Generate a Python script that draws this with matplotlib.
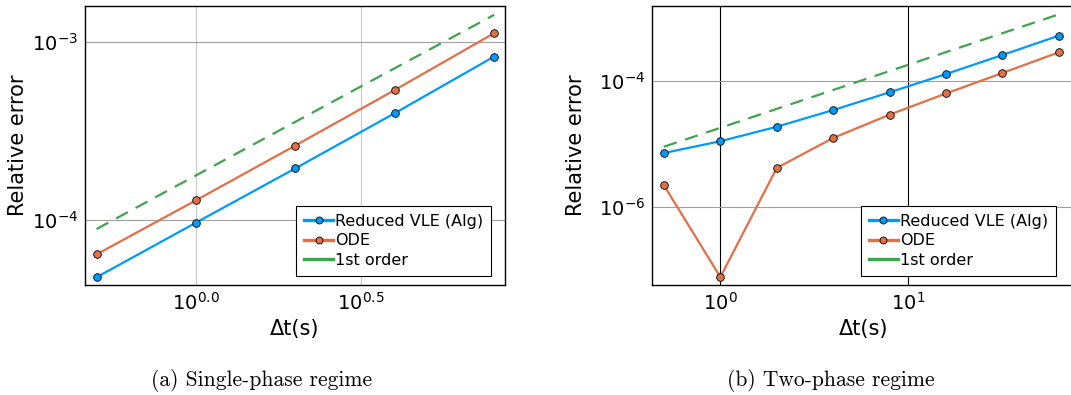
import numpy as np
import matplotlib
matplotlib.use("Agg")
import matplotlib.pyplot as plt
from matplotlib.lines import Line2D

# data
dt_single = [0.5, 1, 2, 4, 8]
vle_single = [4.77e-5, 9.66e-5, 1.95e-4, 3.98e-4, 8.28e-4]
ode_single = [6.41e-5, 1.29e-4, 2.62e-4, 5.37e-4, 1.12e-3]
ref_single = [8.9e-5, 1.78e-4, 3.56e-4, 7.12e-4, 1.42e-3]

dt_two = [0.5, 1, 2, 4, 8, 16, 32, 64]
vle_two = [7.14e-6, 1.10e-5, 1.87e-5, 3.45e-5, 6.6e-5, 1.29e-4, 2.59e-4, 5.26e-4]
ode_two = [2.18e-6, 7.57e-8, 4.13e-6, 1.24e-5, 2.91e-5, 6.33e-5, 1.34e-4, 2.86e-4]
ref_two = [9.0e-6, 1.8e-5, 3.6e-5, 7.2e-5, 1.44e-4, 2.88e-4, 5.76e-4, 1.15e-3]

labels = ["Reduced VLE (Alg)", "ODE", "1st order"]
blue = "#009AFA"
orange = "#E36F47"
green = "#3EA44E"

W, H = 1071, 395
fig = plt.figure(figsize=(W / 100, H / 100), dpi=100)


def px_axes(x0, y0, x1, y1):
    return fig.add_axes([x0 / W, 1 - y1 / H, (x1 - x0) / W, (y1 - y0) / H])


def draw(ax, dt, vle, ode, ref, vgrid_color, leg_anchor):
    ax.plot(dt, vle, color=blue, lw=1.6, marker="o", ms=5.5,
            mfc=blue, mec="black", mew=0.6, zorder=3)
    ax.plot(dt, ode, color=orange, lw=1.6, marker="o", ms=5.5,
            mfc=orange, mec="black", mew=0.6, zorder=3)
    ax.plot(dt, ref, color=green, lw=1.6, ls=(0, (6, 4)), zorder=2)
    ax.set_xscale("log")
    ax.set_yscale("log")
    ax.minorticks_off()
    ax.tick_params(length=0, labelsize=14, pad=5)
    ax.grid(True, axis="y", color="#a0a0a0", lw=0.8)
    ax.grid(True, axis="x", color=vgrid_color, lw=0.8)
    ax.set_axisbelow(True)
    for s in ax.spines.values():
        s.set_linewidth(1.0)
    ax.set_ylabel("Relative error", fontsize=15)
    ax.set_xlabel("\u0394t(s)", fontsize=15, labelpad=4)
    handles = [
        Line2D([], [], color=blue, lw=2.4, marker="o", ms=5, mfc=blue, mec="black", mew=0.6),
        Line2D([], [], color=orange, lw=2.4, marker="o", ms=5, mfc=orange, mec="black", mew=0.6),
        Line2D([], [], color=green, lw=2.4),
    ]
    leg = ax.legend(handles, labels, loc="lower right", bbox_to_anchor=leg_anchor,
                    fontsize=11.5, fancybox=False, edgecolor="black", framealpha=1,
                    handlelength=1.85, handletextpad=0.1, borderpad=0.5,
                    labelspacing=0.3, borderaxespad=0)
    leg.get_frame().set_linewidth(0.8)


# (a) single-phase
ax1 = px_axes(85, 6, 505, 285)
draw(ax1, dt_single, vle_single, ode_single, ref_single, "#c8c8c8", (0.967, 0.032))
ax1.set_xlim(10 ** -0.336, 10 ** 0.936)
ax1.set_ylim(10 ** -4.365, 10 ** -2.798)
ax1.set_xticks([1, 10 ** 0.5])
ax1.set_xticklabels([r"$10^{0.0}$", r"$10^{0.5}$"])
ax1.set_yticks([1e-4, 1e-3])
ax1.set_yticklabels([r"$10^{-4}$", r"$10^{-3}$"])
ax1.yaxis.set_label_coords(-0.135, 0.5)

# (b) two-phase
ax2 = px_axes(652, 6, 1075, 285)
draw(ax2, dt_two, vle_two, ode_two, ref_two, "black", (0.955, 0.032))
ax2.set_xlim(10 ** -0.365, 10 ** 1.893)
ax2.set_ylim(10 ** -7.247, 10 ** -2.806)
ax2.set_xticks([1, 10])
ax2.set_xticklabels([r"$10^{0}$", r"$10^{1}$"])
ax2.set_yticks([1e-6, 1e-4])
ax2.set_yticklabels([r"$10^{-6}$", r"$10^{-4}$"])
ax2.yaxis.set_label_coords(-0.155, 0.5)

fig.text(262 / W, 1 - 381 / H, "(a) Single-phase regime", family="cmr10",
         fontsize=15.5, ha="center", va="center")
fig.text(831 / W, 1 - 381 / H, "(b) Two-phase regime", family="cmr10",
         fontsize=15.5, ha="center", va="center")

fig.savefig("out.png", dpi=100)
